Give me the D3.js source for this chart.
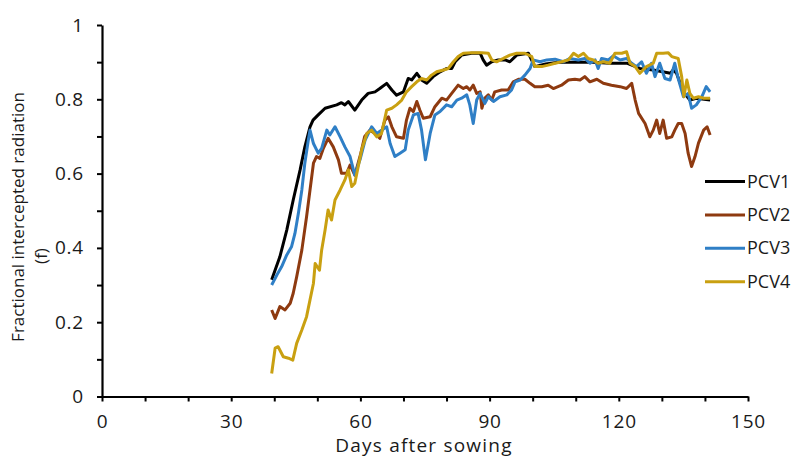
<!DOCTYPE html>
<html>
<head>
<meta charset="utf-8">
<script src="https://cdn.jsdelivr.net/npm/d3@7"></script>
<style>
  body { margin: 0; background: #fff; }
  text { font-family: "Open Sans", sans-serif; fill: #1a1a1a; }
</style>
</head>
<body>
<svg id="chart" width="796" height="457"></svg>
<script>
// [day, fraction]
var pcv1 = [[39.4,0.314],[41.3,0.376],[42.9,0.448],[44.4,0.529],[46,0.61],[47.1,0.672],[48.3,0.726],[49,0.744],[50.2,0.758],[51.8,0.776],[54.5,0.785],[55.6,0.791],[56.4,0.785],[57.2,0.794],[58.7,0.771],[60.3,0.798],[61.8,0.816],[63.4,0.82],[64.5,0.829],[66.1,0.843],[67.3,0.825],[68.4,0.811],[70,0.82],[71.1,0.856],[71.9,0.852],[73.1,0.87],[74.2,0.852],[75.4,0.843],[76.9,0.861],[78.5,0.874],[80,0.883],[81.2,0.883],[82,0.901],[83.5,0.919],[85.8,0.924],[87.8,0.924],[88.5,0.906],[89.3,0.892],[90.5,0.901],[92,0.906],[93.6,0.906],[94.7,0.901],[96.3,0.919],[99,0.924],[100.5,0.888],[103,0.895],[106,0.9],[110,0.9],[114,0.9],[118,0.897],[122,0.897],[124.9,0.883],[128,0.879],[132,0.87],[132.6,0.879],[133.4,0.87],[135,0.82],[136.5,0.798],[138,0.803],[141.2,0.798]];

var pcv2 = [[39.4,0.233],[40.2,0.21],[41.3,0.242],[42.5,0.233],[43.7,0.251],[44.4,0.278],[45.2,0.322],[46.4,0.394],[47.5,0.484],[48.3,0.556],[49.1,0.628],[49.8,0.646],[50.6,0.641],[51.4,0.668],[52.5,0.695],[53.7,0.672],[54.9,0.637],[55.6,0.601],[56.8,0.601],[57.6,0.623],[58.7,0.596],[60,0.65],[61,0.7],[62.2,0.717],[63.4,0.708],[64.5,0.695],[65.7,0.744],[66.5,0.753],[67.3,0.726],[68.4,0.699],[70,0.695],[70.7,0.744],[71.5,0.776],[72.3,0.767],[73.1,0.794],[73.8,0.771],[74.6,0.749],[76.2,0.753],[77.3,0.78],[78.9,0.803],[80,0.798],[81.2,0.816],[82.7,0.838],[83.9,0.829],[84.7,0.834],[85.4,0.825],[86.2,0.838],[87,0.816],[87.8,0.82],[88.2,0.776],[88.9,0.803],[89.7,0.812],[90.5,0.798],[91.2,0.82],[92.8,0.825],[94.3,0.825],[95.5,0.847],[96.7,0.854],[98.2,0.854],[99.4,0.843],[100.5,0.834],[102.1,0.834],[103.6,0.838],[104.8,0.829],[106.7,0.838],[108.3,0.852],[109.8,0.854],[111,0.852],[112.1,0.861],[113.3,0.847],[114.9,0.854],[116.4,0.843],[118.3,0.838],[120.3,0.834],[121.8,0.829],[123,0.843],[123.8,0.798],[124.6,0.762],[126.1,0.735],[127.2,0.699],[128,0.717],[128.8,0.744],[129.5,0.708],[130.3,0.744],[131.1,0.695],[132.3,0.699],[133,0.717],[133.8,0.735],[134.6,0.735],[135.4,0.708],[136.1,0.655],[136.9,0.619],[137.7,0.646],[138.5,0.682],[139.7,0.717],[140.5,0.726],[141.2,0.704]];

var pcv3 = [[39.4,0.3],[40.6,0.327],[41.7,0.349],[42.9,0.381],[44,0.403],[44.8,0.439],[45.6,0.493],[46.4,0.556],[47.1,0.628],[47.9,0.69],[48.3,0.717],[49.1,0.681],[50.2,0.655],[51,0.668],[52.2,0.717],[52.9,0.704],[54.1,0.726],[55.3,0.699],[56.4,0.672],[57.6,0.646],[58.7,0.596],[59.9,0.637],[61.1,0.69],[62.6,0.726],[63.8,0.708],[64.9,0.717],[66.1,0.726],[66.9,0.681],[68,0.646],[69.2,0.655],[70.4,0.664],[71.1,0.717],[72.3,0.758],[73.4,0.762],[74.2,0.717],[75.1,0.637],[76.2,0.708],[77.3,0.758],[78.5,0.767],[80,0.785],[81.2,0.78],[82.4,0.798],[83.5,0.803],[84.7,0.812],[85.4,0.785],[86.2,0.735],[87,0.798],[87.8,0.816],[88.9,0.789],[89.7,0.807],[90.9,0.794],[92.4,0.807],[94,0.812],[95.1,0.825],[95.9,0.847],[97.1,0.852],[98.2,0.865],[99.4,0.883],[100.1,0.906],[101.7,0.901],[103.3,0.906],[105.2,0.908],[107.1,0.901],[108.7,0.91],[110.6,0.906],[112.1,0.91],[113.3,0.897],[114.5,0.906],[115.2,0.883],[116,0.91],[117.6,0.906],[118.7,0.917],[120.3,0.906],[121.8,0.91],[123,0.897],[124.1,0.888],[125.3,0.901],[126.4,0.87],[127.6,0.897],[128.4,0.861],[129.5,0.897],[130.7,0.856],[131.9,0.852],[133,0.897],[133.8,0.856],[135,0.807],[136.1,0.816],[136.9,0.776],[138,0.785],[139.3,0.807],[140.3,0.834],[141.2,0.82]];

var pcv4 = [[39.4,0.062],[40.2,0.13],[40.9,0.134],[42.1,0.107],[43.3,0.103],[44.3,0.098],[45.2,0.143],[46.4,0.179],[47.5,0.215],[48.3,0.26],[49.1,0.305],[49.5,0.358],[50.5,0.34],[51,0.394],[51.8,0.448],[52.5,0.502],[53.3,0.475],[54.1,0.529],[55.3,0.556],[56.4,0.583],[57.2,0.61],[58,0.565],[58.7,0.574],[59.5,0.619],[60.3,0.664],[61.5,0.708],[62.6,0.717],[63.8,0.699],[64.9,0.708],[66.1,0.771],[67.3,0.776],[68.4,0.785],[69.6,0.798],[70.7,0.82],[71.9,0.834],[73.1,0.847],[74.2,0.856],[75.4,0.852],[76.5,0.865],[77.7,0.874],[79.3,0.879],[80.4,0.883],[81.6,0.901],[82.7,0.915],[83.9,0.924],[85.8,0.925],[88.2,0.925],[89.7,0.924],[90.5,0.906],[91.6,0.901],[93.2,0.91],[94.7,0.919],[96.3,0.924],[98.2,0.924],[99.8,0.915],[100.5,0.888],[102.1,0.888],[103.6,0.892],[105.2,0.897],[106.7,0.901],[108.3,0.906],[109.5,0.924],[110.6,0.915],[111.8,0.924],[112.9,0.91],[114.1,0.906],[115.2,0.897],[116.4,0.901],[117.9,0.897],[119.1,0.924],[120.7,0.924],[121.8,0.928],[122.6,0.897],[123.8,0.888],[124.9,0.87],[126.4,0.888],[128,0.897],[128.8,0.924],[130.3,0.924],[131.5,0.925],[132.3,0.915],[133.8,0.91],[134.6,0.861],[135.1,0.807],[135.8,0.852],[136.5,0.816],[137.3,0.803],[138.5,0.807],[139.7,0.803],[141.2,0.803]];

var seriesNames = ["PCV1", "PCV2", "PCV3", "PCV4"];
var xTicks = [0, 10, 20, 30, 40, 50, 60, 70, 80, 90, 100, 110, 120, 130, 140, 150];
var xLabels = [0, 30, 60, 90, 120, 150];
var yTicks = [0, 0.1, 0.2, 0.3, 0.4, 0.5, 0.6, 0.7, 0.8, 0.9, 1];
var yLabels = [0, 0.2, 0.4, 0.6, 0.8, 1];

var colors = ["#000000", "#8e3a10", "#2f7fc6", "#c9a011"];

var svg = d3.select("#chart");

var x = d3.scaleLinear().domain([0, 150]).range([102, 748]);
var y = d3.scaleLinear().domain([0, 1]).range([396.5, 25]);

// y axis
var yAxis = d3.axisLeft(y)
  .tickValues(yTicks)
  .tickSize(5)
  .tickSizeOuter(0)
  .tickPadding(13)
  .tickFormat(function(d) {
    return yLabels.indexOf(d) >= 0 ? d3.format("")(d) : "";
  });

var gy = svg.append("g")
  .attr("transform", "translate(" + x(0) + ",0)")
  .call(yAxis);

// x axis
var xAxis = d3.axisBottom(x)
  .tickValues(xTicks)
  .tickSize(5)
  .tickSizeOuter(0)
  .tickPadding(13)
  .tickFormat(function(d) {
    return xLabels.indexOf(d) >= 0 ? d : "";
  });

var gx = svg.append("g")
  .attr("transform", "translate(0," + y(0) + ")")
  .call(xAxis);

[gx, gy].forEach(function(g) {
  g.select(".domain").attr("stroke", "#000").attr("stroke-width", 2.2);
  g.selectAll(".tick line").attr("stroke", "#000").attr("stroke-width", 2);
  g.selectAll(".tick text")
    .attr("fill", "#1a1a1a")
    .style("font-family", "'Open Sans', sans-serif")
    .style("font-size", "19px")
    .style("letter-spacing", "0.8px");
});

// axis titles
svg.append("text")
  .attr("transform", "translate(24,217) rotate(-90)")
  .attr("text-anchor", "middle")
  .style("font-size", "17px")
  .text("Fractional intercepted radiation");

svg.append("text")
  .attr("transform", "translate(47,256) rotate(-90)")
  .attr("text-anchor", "middle")
  .style("font-size", "17px")
  .text("(f)");

svg.append("text")
  .attr("x", 424)
  .attr("y", 452)
  .attr("text-anchor", "middle")
  .style("font-size", "19px")
  .style("letter-spacing", "1.2px")
  .text("Days after sowing");

// series
var line = d3.line()
  .x(function(d) { return x(d[0]); })
  .y(function(d) { return y(d[1]); });

var allSeries = [pcv1, pcv2, pcv3, pcv4];

svg.append("g").selectAll("path")
  .data(allSeries)
  .enter().append("path")
  .attr("d", line)
  .attr("fill", "none")
  .attr("stroke", function(d, i) { return colors[i]; })
  .attr("stroke-width", 3)
  .attr("stroke-linejoin", "round");

// legend
var legend = svg.append("g").attr("transform", "translate(705,181.5)");

var item = legend.selectAll("g")
  .data(seriesNames)
  .enter().append("g")
  .attr("transform", function(d, i) { return "translate(0," + (i * 33.4) + ")"; });

item.append("line")
  .attr("x1", 0).attr("x2", 40)
  .attr("y1", 0).attr("y2", 0)
  .attr("stroke", function(d, i) { return colors[i]; })
  .attr("stroke-width", 3);

item.append("text")
  .attr("x", 42)
  .attr("y", 6)
  .style("font-size", "18px")
  .text(function(d) { return d; });
</script>
</body>
</html>
